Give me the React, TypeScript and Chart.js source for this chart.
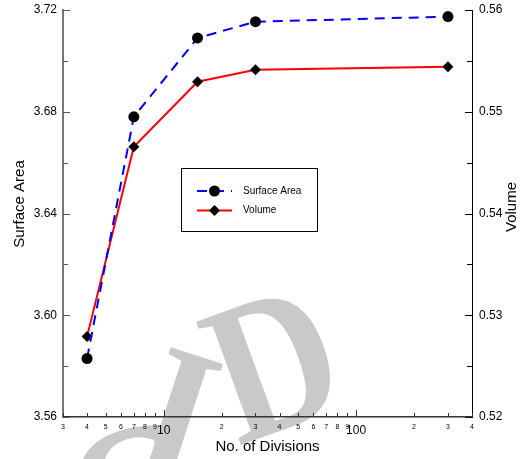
import React, { useEffect, useRef } from "react";
import { Chart, registerables } from "chart.js";

Chart.register(...registerables);

const divisions = [4, 7, 15, 30, 300];
const surfaceArea = [3.583, 3.678, 3.709, 3.7154, 3.7174];
const volume = [0.5279, 0.54655, 0.55295, 0.55413, 0.55442];
const xTickValues = [3, 4, 5, 6, 7, 8, 9, 10, 20, 30, 40, 50, 60, 70, 80, 90, 100, 200, 300, 400];
const xMajorTicks = [10, 100];
const leftTickValues = [3.56, 3.58, 3.6, 3.62, 3.64, 3.66, 3.68, 3.7, 3.72];
const rightTickValues = [0.52, 0.525, 0.53, 0.535, 0.54, 0.545, 0.55, 0.555, 0.56];
const seriesNames = ["Surface Area", "Volume"];
const axisTitles = ["No. of Divisions", "Surface Area", "Volume"];
const watermarkLetters = ["C", "I", "D"];

const FONT = "'Liberation Sans', Arial, Helvetica, sans-serif";

const tickMarksPlugin = {
  id: "tickMarks",
  afterDraw(chart: any) {
    const ctx = chart.ctx;
    const x = chart.scales.x;
    const yl = chart.scales.y;
    const yr = chart.scales.y2;
    ctx.save();
    ctx.lineWidth = 1;
    ctx.strokeStyle = "#333";
    for (const t of x.ticks) {
      const px = Math.round(x.getPixelForValue(t.value)) + 0.5;
      const len = xMajorTicks.includes(t.value) ? 7 : 4;
      ctx.beginPath();
      ctx.moveTo(px, x.top);
      ctx.lineTo(px, x.top - len);
      ctx.stroke();
    }
    ctx.strokeStyle = "#555";
    yl.ticks.forEach((t: any, i: number) => {
      const py = Math.round(yl.getPixelForValue(t.value)) + 0.5;
      const len = i % 2 === 0 ? 7 : 5;
      ctx.beginPath();
      ctx.moveTo(yl.right, py);
      ctx.lineTo(yl.right + len, py);
      ctx.stroke();
    });
    ctx.strokeStyle = "#000";
    yr.ticks.forEach((t: any, i: number) => {
      const py = Math.round(yr.getPixelForValue(t.value)) + 0.5;
      const len = i % 2 === 0 ? 7 : 5;
      ctx.beginPath();
      ctx.moveTo(yr.left, py);
      ctx.lineTo(yr.left - len, py);
      ctx.stroke();
    });
    // vertical axis titles (both read bottom-to-top)
    ctx.fillStyle = "#000";
    ctx.font = `15px ${FONT}`;
    ctx.textAlign = "center";
    ctx.textBaseline = "middle";
    ctx.save();
    ctx.translate(20, 204);
    ctx.rotate(-Math.PI / 2);
    ctx.fillText(axisTitles[1], 0, 0);
    ctx.restore();
    ctx.save();
    ctx.translate(512, 207);
    ctx.rotate(-Math.PI / 2);
    ctx.fillText(axisTitles[2], 0, 0);
    ctx.restore();
    ctx.restore();
  },
};

const watermarkPlugin = {
  id: "watermark",
  beforeDraw(chart: any) {
    const ctx = chart.ctx;
    const place = [
      { x: 95, y: 578, a: -18 },
      { x: 125, y: 470, a: 18 },
      { x: 238, y: 446, a: -20 },
    ];
    ctx.save();
    ctx.font = `bold 200px 'Liberation Serif', 'DejaVu Serif', serif`;
    ctx.fillStyle = "#c9c9c9";
    ctx.textBaseline = "alphabetic";
    watermarkLetters.forEach((ch, i) => {
      const p = place[i];
      ctx.save();
      ctx.translate(p.x, p.y);
      ctx.rotate((p.a * Math.PI) / 180);
      ctx.scale(0.85, 1);
      ctx.fillText(ch, 0, 0);
      ctx.restore();
    });
    ctx.restore();
  },
};

const legendPlugin = {
  id: "boxLegend",
  afterDraw(chart: any) {
    const ctx = chart.ctx;
    ctx.save();
    ctx.fillStyle = "#fff";
    ctx.fillRect(181.5, 168.5, 136, 63);
    ctx.strokeStyle = "#000";
    ctx.lineWidth = 1;
    ctx.strokeRect(181.5, 168.5, 136, 63);
    const rows = [191, 210.5];
    chart.data.datasets.forEach((ds: any, i: number) => {
      const y = rows[i];
      ctx.strokeStyle = ds.borderColor;
      ctx.lineWidth = ds.borderWidth;
      ctx.setLineDash(ds.borderDash || []);
      ctx.beginPath();
      ctx.moveTo(197, y);
      ctx.lineTo(232, y);
      ctx.stroke();
      ctx.setLineDash([]);
      ctx.fillStyle = "#000";
      ctx.beginPath();
      if (ds.pointStyle === "circle") {
        ctx.arc(214.5, y, ds.pointRadius, 0, Math.PI * 2);
      } else {
        const r = ds.pointRadius;
        ctx.moveTo(214.5, y - r);
        ctx.lineTo(214.5 + r, y);
        ctx.lineTo(214.5, y + r);
        ctx.lineTo(214.5 - r, y);
        ctx.closePath();
      }
      ctx.fill();
      ctx.font = `10px ${FONT}`;
      ctx.textAlign = "left";
      ctx.textBaseline = "middle";
      ctx.fillText(ds.label, 243, y);
    });
    ctx.restore();
  },
};

export default function App() {
  const canvasRef = useRef<HTMLCanvasElement | null>(null);

  useEffect(() => {
    document.body.style.margin = "0";
    const canvas = canvasRef.current;
    if (!canvas) return;
    const chart = new Chart(canvas, {
      type: "line",
      data: {
        datasets: [
          {
            label: seriesNames[0],
            data: divisions.map((d, i) => ({ x: d, y: surfaceArea[i] })),
            yAxisID: "y",
            borderColor: "#0000ff",
            borderWidth: 2,
            borderDash: [10, 7],
            pointStyle: "circle",
            pointRadius: 5.5,
            pointBackgroundColor: "#000",
            pointBorderColor: "#000",
            pointBorderWidth: 0,
            fill: false,
            tension: 0,
            clip: false,
          } as any,
          {
            label: seriesNames[1],
            data: divisions.map((d, i) => ({ x: d, y: volume[i] })),
            yAxisID: "y2",
            borderColor: "#ff0000",
            borderWidth: 2,
            pointStyle: "rectRot",
            pointRadius: 5.5,
            pointBackgroundColor: "#000",
            pointBorderColor: "#000",
            pointBorderWidth: 0,
            fill: false,
            tension: 0,
            clip: false,
          } as any,
        ],
      },
      options: {
        responsive: false,
        animation: false,
        events: [],
        layout: { padding: { top: 10, left: 0, right: 0, bottom: 0 }, autoPadding: false } as any,
        plugins: {
          legend: { display: false },
          tooltip: { enabled: false },
        },
        scales: {
          x: {
            type: "logarithmic",
            min: 3,
            max: 400,
            afterBuildTicks: (scale: any) => {
              scale.ticks = xTickValues.map((v) => ({ value: v, major: xMajorTicks.includes(v) }));
            },
            afterFit: (scale: any) => {
              scale.height = 42;
            },
            grid: { display: false, drawTicks: false },
            border: { display: true, color: "#333", width: 1.5 },
            ticks: {
              autoSkip: false,
              maxRotation: 0,
              minRotation: 0,
              padding: 6,
              color: "#000",
              font: (c: any) =>
                c.tick && xMajorTicks.includes(c.tick.value)
                  ? { family: FONT, size: 12 }
                  : { family: FONT, size: 7 },
              callback: (value: any) => {
                const v = Number(value);
                if (xMajorTicks.includes(v)) return String(v);
                const p = Math.pow(10, Math.floor(Math.log10(v) + 1e-9));
                return String(Math.round(v / p));
              },
            },
            title: {
              display: true,
              text: axisTitles[0],
              color: "#000",
              font: { family: FONT, size: 15 },
              padding: { top: 0, bottom: 3 },
            },
          },
          y: {
            type: "linear",
            position: "left",
            min: 3.56,
            max: 3.72,
            afterBuildTicks: (scale: any) => {
              scale.ticks = leftTickValues.map((v) => ({ value: v }));
            },
            afterFit: (scale: any) => {
              scale.width = 63;
            },
            grid: { display: false, drawTicks: false },
            border: { display: true, color: "#777", width: 2 },
            ticks: {
              padding: 6,
              color: "#000",
              font: { family: FONT, size: 12, lineHeight: 0.4 },
              callback: (value: any, index: number) => (index % 2 === 0 ? Number(value).toFixed(2) : ""),
            },
          },
          y2: {
            type: "linear",
            position: "right",
            min: 0.52,
            max: 0.56,
            afterBuildTicks: (scale: any) => {
              scale.ticks = rightTickValues.map((v) => ({ value: v }));
            },
            afterFit: (scale: any) => {
              scale.width = 51;
            },
            grid: { display: false, drawTicks: false },
            border: { display: true, color: "#000", width: 1 },
            ticks: {
              padding: 7,
              color: "#000",
              font: { family: FONT, size: 12, lineHeight: 0.4 },
              callback: (value: any, index: number) => (index % 2 === 0 ? Number(value).toFixed(2) : ""),
            },
          },
        },
      } as any,
      plugins: [watermarkPlugin, tickMarksPlugin, legendPlugin],
    });
    return () => chart.destroy();
  }, []);

  return (
    <div style={{ width: 523, height: 459 }}>
      <canvas ref={canvasRef} width={523} height={459} style={{ display: "block" }} />
    </div>
  );
}
